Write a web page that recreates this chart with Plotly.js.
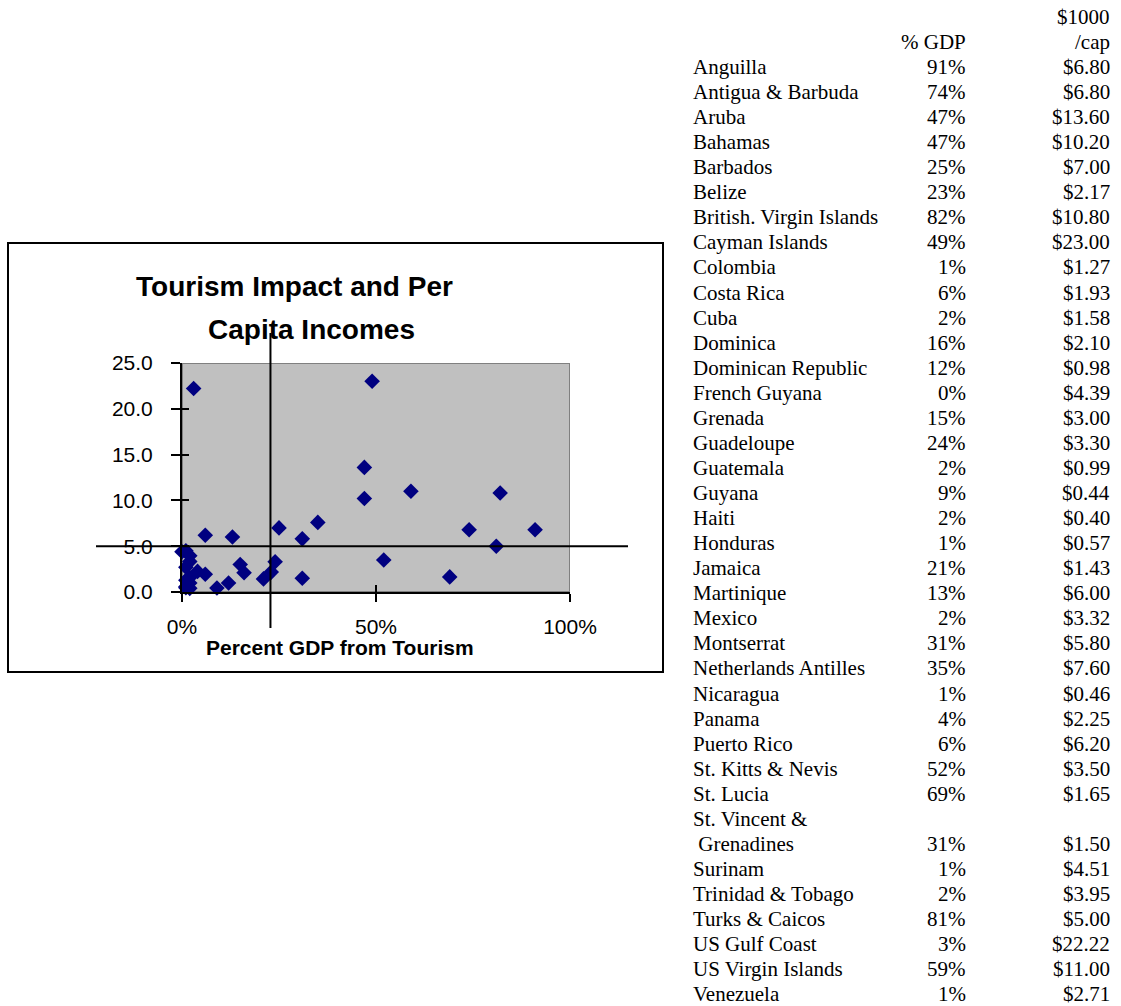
<!DOCTYPE html>
<html><head><meta charset="utf-8">
<script src="https://cdn.plot.ly/plotly-3.0.1.min.js"></script>
<style>html,body{margin:0;padding:0;background:#fff;} #chart{width:1121px;height:1006px;}</style>
</head><body><div id="chart"></div>
<script>
const countries = ["Anguilla","Antigua & Barbuda","Aruba","Bahamas","Barbados","Belize","British. Virgin Islands","Cayman Islands","Colombia","Costa Rica","Cuba","Dominica","Dominican Republic","French Guyana","Grenada","Guadeloupe","Guatemala","Guyana","Haiti","Honduras","Jamaica","Martinique","Mexico","Montserrat","Netherlands Antilles","Nicaragua","Panama","Puerto Rico","St. Kitts & Nevis","St. Lucia","St. Vincent &\n\u00a0Grenadines","Surinam","Trinidad & Tobago","Turks & Caicos","US Gulf Coast","US Virgin Islands","Venezuela"];
const pctGdp = [91,74,47,47,25,23,82,49,1,6,2,16,12,0,15,24,2,9,2,1,21,13,2,31,35,1,4,6,52,69,31,1,2,81,3,59,1];
const incomeK = [6.80,6.80,13.60,10.20,7.00,2.17,10.80,23.00,1.27,1.93,1.58,2.10,0.98,4.39,3.00,3.30,0.99,0.44,0.40,0.57,1.43,6.00,3.32,5.80,7.60,0.46,2.25,6.20,3.50,1.65,1.50,4.51,3.95,5.00,22.22,11.00,2.71];
const xTicks = [0,50,100];
const xTickText = ["0%","50%","100%"];
const yTicks = [0,5,10,15,20,25];
const yTickText = ["0.0","5.0","10.0","15.0","20.0","25.0"];
const refX = 22.8;   // vertical divider line (% GDP)
const refY = 5.0;    // horizontal divider line ($1000/cap)
const titleLines = ["Tourism Impact and Per","Capita Incomes"];
const xAxisTitle = "Percent GDP from Tourism";
const headerPct = "% GDP";
const headerIncTop = "$1000";
const headerInc = "/cap";

const W = 1121, H = 1006;
const px = v => v / W;
const py = v => 1 - v / H;
const sans = "Liberation Sans, Arial, sans-serif";
const serif = "Liberation Serif, Times New Roman, serif";

const annotations = [];
// chart title
annotations.push({text: "<b>" + titleLines[0] + "</b>", x: px(294), y: py(287), xref:'paper', yref:'paper', xanchor:'center', yanchor:'middle', showarrow:false, font:{family:sans, size:28, color:'black'}});
annotations.push({text: "<b>" + titleLines[1] + "</b>", x: px(311), y: py(329), xref:'paper', yref:'paper', xanchor:'center', yanchor:'middle', showarrow:false, font:{family:sans, size:28, color:'black'}});
annotations.push({text: "<b>" + xAxisTitle + "</b>", x: px(340), y: py(647), xref:'paper', yref:'paper', xanchor:'center', yanchor:'middle', showarrow:false, font:{family:sans, size:21, color:'black'}});

// table
const rowH = 25.06, row0 = 67;
const nameX = 692, pctX = 967, incX = 1111;
const tf = {family: serif, size: 21, color: 'black'};
function tAnn(text, x, row, anchor) {
  annotations.push({text: text, x: px(x), y: py(row0 + row * rowH), xref:'paper', yref:'paper', xanchor: anchor, yanchor:'middle', showarrow:false, font: tf, borderpad:0});
}
tAnn(headerIncTop, incX, -2, 'right');
tAnn(headerPct, pctX, -1, 'right');
tAnn(headerInc, incX, -1, 'right');
let r = 0;
countries.forEach((c, i) => {
  const lines = c.split("\n");
  lines.forEach((ln, j) => { tAnn(ln, nameX, r + j, 'left'); });
  r += lines.length - 1;
  tAnn(pctGdp[i] + "%", pctX, r, 'right');
  tAnn("$" + incomeK[i].toFixed(2), incX, r, 'right');
  r += 1;
});

const shapes = [
  {type:'rect', xref:'x', yref:'y', x0:0, x1:100, y0:0, y1:25, fillcolor:'#c0c0c0', line:{color:'#808080', width:2}, layer:'below'},
  {type:'rect', xref:'paper', yref:'paper', x0:px(8), x1:px(663), y0:py(672), y1:py(243), line:{color:'black', width:2}, fillcolor:'rgba(0,0,0,0)', layer:'above'},
  {type:'line', xref:'paper', yref:'y', x0:px(96), x1:px(628), y0:refY, y1:refY, line:{color:'black', width:2}, layer:'above'},
  {type:'line', xref:'x', yref:'paper', x0:refX, x1:refX, y0:py(628), y1:py(333), line:{color:'black', width:2}, layer:'above'}
];

const traces = [
  {type:'scatter', mode:'markers', x: pctGdp, y: incomeK, text: countries, cliponaxis:false,
   marker:{symbol:'diamond', size:12, color:'#000080', line:{width:0}}, hoverinfo:'text+x+y'},
  {type:'scatter', mode:'markers', x: [null], y: [null], xaxis:'x2', yaxis:'y', hoverinfo:'skip', showlegend:false},
  {type:'scatter', mode:'markers', x: [null], y: [null], xaxis:'x', yaxis:'y2', hoverinfo:'skip', showlegend:false}
];

const xDom = [px(182), px(570)];
const yDom = [py(592), py(363)];
const layout = {
  width: W, height: H, margin:{l:0, r:0, t:0, b:0},
  paper_bgcolor:'white', plot_bgcolor:'rgba(0,0,0,0)', showlegend:false,
  xaxis:{domain:xDom, range:[0,100], tickvals:xTicks, ticktext:xTickText, ticks:'outside', ticklen:8, tickwidth:2, tickcolor:'black',
         showline:true, linecolor:'black', linewidth:2, showgrid:false, zeroline:false, anchor:'y',
         tickfont:{family:sans, size:21, color:'black'}, ticklabelstandoff:7, fixedrange:true},
  xaxis2:{overlaying:'x', anchor:'y', range:[0,100], tickvals:xTicks, ticks:'inside', ticklen:7, tickwidth:2, tickcolor:'black',
         showticklabels:false, showline:false, showgrid:false, zeroline:false, fixedrange:true},
  yaxis:{domain:yDom, range:[0,25], tickvals:yTicks, ticktext:yTickText, ticks:'outside', ticklen:9, tickwidth:2, tickcolor:'black',
         showline:true, linecolor:'black', linewidth:2, showgrid:false, zeroline:false, anchor:'x',
         tickfont:{family:sans, size:21, color:'black'}, ticklabelstandoff:14, fixedrange:true},
  yaxis2:{overlaying:'y', anchor:'x', side:'left', range:[0,25], tickvals:yTicks, ticks:'inside', ticklen:7, tickwidth:2, tickcolor:'black',
         showticklabels:false, showline:false, showgrid:false, zeroline:false, fixedrange:true},
  shapes: shapes,
  annotations: annotations
};
Plotly.newPlot('chart', traces, layout, {displayModeBar:false, responsive:false});
</script>
</body></html>
